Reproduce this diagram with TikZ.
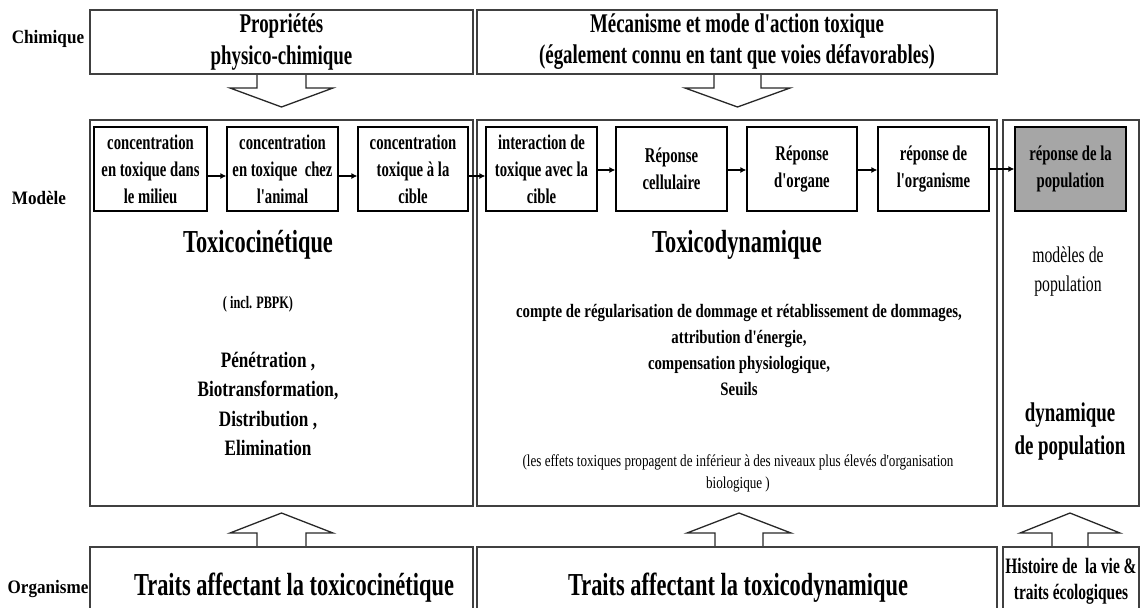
\documentclass[tikz,border=0pt]{standalone}
\usepackage{fontspec}
\setmainfont{Liberation Serif}[FakeStretch=0.7, Ligatures=TeXOff]
\newfontfamily\midfont{Liberation Serif}[FakeStretch=0.78, Ligatures=TeXOff]
\newfontfamily\lblfont{Liberation Serif}[FakeStretch=0.9, Ligatures=TeXOff]
\usetikzlibrary{arrows.meta}
\definecolor{frame}{RGB}{64,64,64}
\definecolor{arrowline}{RGB}{40,40,40}
\definecolor{popgrey}{RGB}{166,166,166}
\tikzset{
  outer/.style={draw=frame, line width=1.5pt, fill=white, inner sep=0pt, align=center},
  innerbox/.style={draw=black, line width=1.2pt, fill=white, align=center, inner sep=0pt,
    minimum height=84pt, font=\fontsize{21}{27}\selectfont\bfseries},
  flow/.style={-{Latex[length=6pt,width=6pt]}, line width=1.2pt},
  blockarrow/.style={draw=arrowline, line width=1.3pt, fill=white, line join=miter},
  lbl/.style={font=\lblfont\fontsize{19}{22}\selectfont\bfseries},
  txt/.style={align=center, inner sep=0pt},
}
\begin{document}
\begin{tikzpicture}[x=1pt, y=-1pt]
\useasboundingbox (0,0) rectangle (1144,608);
\clip (0,0) rectangle (1144,608);
\fill[white] (0,0) rectangle (1144,608);

% block arrows
\draw[blockarrow] (257,73) -- (257,88) -- (230,88) -- (281.5,107) -- (333,88) -- (306,88) -- (306,73);
\draw[blockarrow] (714,73) -- (714,88) -- (685,88) -- (737.5,107) -- (790,88) -- (761,88) -- (761,73);
\draw[blockarrow] (257,548) -- (257,533) -- (230,533) -- (281.5,513) -- (333,533) -- (306,533) -- (306,548);
\draw[blockarrow] (715,548) -- (715,533) -- (687,533) -- (739,513) -- (791,533) -- (763,533) -- (763,548);
\draw[blockarrow] (1052,548) -- (1052,533) -- (1020,533) -- (1070,513) -- (1120,533) -- (1088,533) -- (1088,548);

% top row
\node[outer, minimum width=383pt, minimum height=64pt, font=\fontsize{27}{32}\selectfont\bfseries]
  (top1) at (281.5,42) {Propriétés\\physico-chimique};
\node[outer, minimum width=520pt, minimum height=64pt, font=\fontsize{27}{31}\selectfont\bfseries]
  (top2) at (737,42) {Mécanisme et mode d'action toxique\\(également connu en tant que voies défavorables)};

% model row frames
\node[outer, minimum width=383pt, minimum height=386pt] (kt) at (281.5,313) {};
\node[outer, minimum width=520pt, minimum height=386pt] (td) at (737,313) {};
\node[outer, minimum width=136pt, minimum height=386pt] (pop) at (1071,313) {};

% bottom row frames
\node[outer, minimum width=383pt, minimum height=100pt] (bkt) at (281.5,597) {};
\node[outer, minimum width=520pt, minimum height=100pt] (btd) at (737,597) {};
\node[outer, minimum width=136pt, minimum height=100pt] (bpop) at (1071,597) {};

% inner boxes
\node[innerbox, minimum width=113pt] (b1) at (150.5,169) {concentration\\en toxique dans\\le milieu};
\node[innerbox, minimum width=111pt] (b2) at (282.5,169) {concentration\\en toxique\ \ chez\\l'animal};
\node[innerbox, minimum width=110pt] (b3) at (413,169) {concentration\\toxique à la\\cible};
\node[innerbox, minimum width=111pt] (b4) at (541.5,169) {interaction de\\toxique avec la\\cible};
\node[innerbox, minimum width=111pt] (b5) at (671.5,169) {Réponse\\cellulaire};
\node[innerbox, minimum width=110pt] (b6) at (802,169) {Réponse\\d'organe};
\node[innerbox, minimum width=111pt] (b7) at (933.5,169) {réponse de\\l'organisme};
\node[innerbox, minimum width=111pt, fill=popgrey] (b8) at (1070.5,169) {réponse de la\\population};

\draw[flow] ([yshift=-7pt]b1.east) -- ([yshift=-7pt]b2.west);
\draw[flow] ([yshift=-7pt]b2.east) -- ([yshift=-7pt]b3.west);
\draw[flow] ([yshift=-7pt]b3.east) -- ([yshift=-7pt]b4.west);
\draw[flow] ([yshift=-1pt]b4.east) -- ([yshift=-1pt]b5.west);
\draw[flow] ([yshift=-1pt]b5.east) -- ([yshift=-1pt]b6.west);
\draw[flow] ([yshift=-1pt]b6.east) -- ([yshift=-1pt]b7.west);
\draw[flow] (b7.east) -- (b8.west);

% row labels
\node[lbl] (lchim) at (48,39) {Chimique};
\node[lbl] (lmod) at (39,198) {Modèle};
\node[lbl] (lorg) at (48,589) {Organisme};

% toxicokinetics text
\node[txt, font=\fontsize{32}{36}\selectfont\bfseries] (tkt) at (258,245) {Toxicocinétique};
\node[txt, font=\fontsize{17.5}{20}\selectfont\bfseries] (pbpk) at (258,304) {( incl. PBPK)};
\node[txt, font=\midfont\fontsize{22}{29.5}\selectfont\bfseries] (proc) at (268,404)
  {Pénétration ,\\Biotransformation,\\Distribution ,\\Elimination};

% toxicodynamics text
\node[txt, font=\fontsize{32}{36}\selectfont\bfseries] (ttd) at (737,245) {Toxicodynamique};
\node[txt, font=\midfont\fontsize{19}{26}\selectfont\bfseries] (tdproc) at (739,350)
  {compte de régularisation de dommage et rétablissement de dommages,\\attribution d'énergie,\\compensation physiologique,\\Seuils};
\node[txt, font=\midfont\fontsize{16.8}{22}\selectfont] (tdnote) at (738,473)
  {(les effets toxiques propagent de inférieur à des niveaux plus élevés d'organisation\\biologique )};

% population text
\node[txt, font=\fontsize{22.5}{29}\selectfont] (popm) at (1068,272) {modèles de\\population};
\node[txt, font=\fontsize{27}{33}\selectfont\bfseries] (popd) at (1070,432) {dynamique\\de population};

% bottom texts
\node[txt, font=\fontsize{32}{36}\selectfont\bfseries] (bt1) at (294,588) {Traits affectant la toxicocinétique};
\node[txt, font=\fontsize{32}{36}\selectfont\bfseries] (bt2) at (738,588) {Traits affectant la toxicodynamique};
\node[txt, font=\fontsize{22}{26}\selectfont\bfseries] (bt3) at (1071,581) {Histoire de\ \ la vie \&\\traits écologiques};
\end{tikzpicture}
\end{document}
